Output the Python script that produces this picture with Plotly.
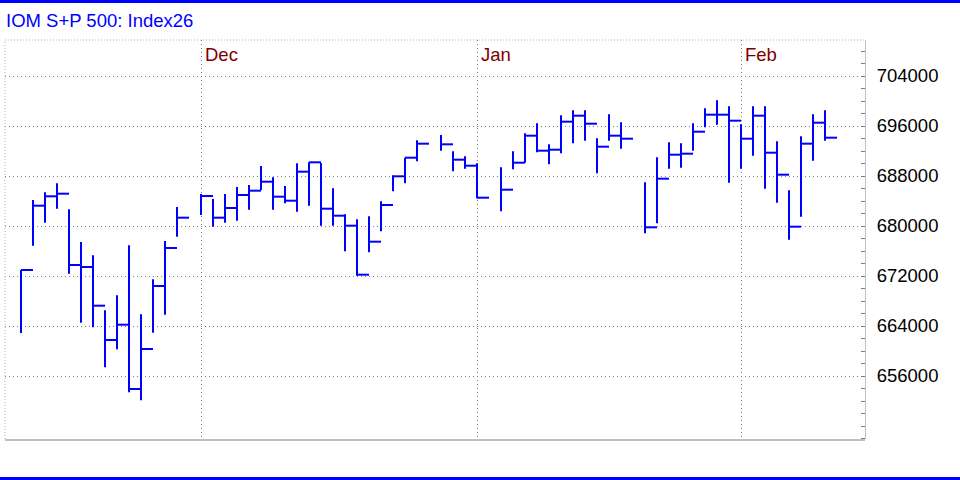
import numpy as np
import plotly.graph_objects as go

# ---- data ----
dates = [
    "2025-11-10", "2025-11-11", "2025-11-12", "2025-11-13", "2025-11-14",
    "2025-11-17", "2025-11-18", "2025-11-19", "2025-11-20", "2025-11-21",
    "2025-11-24", "2025-11-25", "2025-11-26", "2025-11-27",
    "2025-12-01", "2025-12-02", "2025-12-03", "2025-12-04", "2025-12-05",
    "2025-12-08", "2025-12-09", "2025-12-10", "2025-12-11", "2025-12-12",
    "2025-12-15", "2025-12-16", "2025-12-17", "2025-12-18", "2025-12-19",
    "2025-12-22", "2025-12-23", "2025-12-24", "2025-12-25",
    "2025-12-29", "2025-12-30", "2025-12-31", "2026-01-01",
    "2026-01-05", "2026-01-06", "2026-01-07", "2026-01-08", "2026-01-09",
    "2026-01-12", "2026-01-13", "2026-01-14", "2026-01-15", "2026-01-16",
    "2026-01-19",
    "2026-01-21", "2026-01-22", "2026-01-23",
    "2026-01-26", "2026-01-27", "2026-01-28", "2026-01-29", "2026-01-30",
    "2026-02-02", "2026-02-03", "2026-02-04", "2026-02-05", "2026-02-06",
    "2026-02-09", "2026-02-10", "2026-02-11",
]
high = [
    672960, 684160, 685390, 686830, 682670, 677440, 675310, 666510, 668910, 676910,
    665870, 671470, 677600, 683040,
    685120, 684320, 685120, 686240, 686560, 689600, 687790, 686400, 690030, 690190,
    690080, 686030, 681870, 681070, 681550, 683950, 688110, 690930, 693710,
    694560, 691950, 691150, 690030,
    689390, 691950, 694830, 696430, 693070, 697710, 698510, 698510, 694030, 697870,
    696590,
    686990, 690990, 693390, 693230, 696430, 698830, 700110, 699150,
    696270, 699150, 699150, 693550, 685710, 694350, 697870, 698510,
]
low = [
    662880, 676850, 680530, 682770, 672370, 664530, 663790, 657390, 660270, 653390,
    652110, 662930, 665810, 678290,
    681760, 679890, 680530, 680850, 682610, 685760, 682610, 683630, 682290, 683250,
    680050, 680050, 675950, 672050, 675790, 679150, 685550, 686830, 690350,
    692050, 688750, 689170, 684430,
    682350, 689070, 690130, 691790, 689870, 691630, 693230, 693650, 688430, 693650,
    692370,
    678830, 680430, 689170, 689330, 692050, 695790, 696210, 686930,
    689170, 691250, 685970, 683730, 677810, 681490, 690450, 693650,
]
close = [
    672960, 683250, 684750, 685170, 673760, 673440, 667250, 661760, 664210, 653920,
    660320, 670400, 676480, 681330,
    684800, 681330, 682880, 684960, 685650, 687090, 684690, 684050, 688690, 690190,
    682770, 681650, 680050, 672210, 677490, 683360, 687950, 690930, 693170,
    693070, 690610, 689650, 684530,
    685810, 690130, 694450, 692050, 692210, 696690, 697650, 696370, 692690, 694450,
    693970,
    679790, 687570, 691410, 691570, 695090, 697810, 697810, 696850,
    693970, 697650, 691730, 688210, 679890, 693170, 696530, 694130,
]
month_labels = ["Dec", "Jan", "Feb"]
month_starts = ["2025-12-01", "2026-01-01", "2026-02-02"]
y_ticks = [656000, 664000, 672000, 680000, 688000, 696000, 704000]
title_text = "IOM S+P 500: Index26"

# ---- positions: weekday slots ----
d0 = np.datetime64(dates[0])
slot = [int(np.busday_count(d0, np.datetime64(d))) for d in dates]
month_slots = [int(np.busday_count(d0, np.datetime64(d))) for d in month_starts]

xs, ys = [], []
for s, h, l, c in zip(slot, high, low, close):
    xs += [s, s, None, s, s + 1, None]
    ys += [l, h, None, c, c, None]

BLUE = "#0000ff"
fig = go.Figure()
fig.add_trace(go.Scatter(x=xs, y=ys, mode="lines",
                         line=dict(color=BLUE, width=2),
                         hoverinfo="skip", showlegend=False))

L, R, T, B = 5, 95, 40, 41
W, H = 960, 480
pw, ph = W - L - R, H - T - B
FONT = "Liberation Sans, Arial, sans-serif"

fig.update_layout(
    width=W, height=H,
    margin=dict(l=L, r=R, t=T, b=B),
    paper_bgcolor="white", plot_bgcolor="white",
    showlegend=False,
    font=dict(family=FONT, size=18.5, color="black"),
)
fig.update_xaxes(
    range=[-16 / 12, (pw - 16) / 12],
    tickvals=month_slots, showticklabels=False, ticks="",
    showgrid=True, gridcolor="#808080", griddash="1px,3px", gridwidth=1,
    zeroline=False, showline=False,
)
fig.update_yaxes(
    range=[645920, 709760], side="right",
    tickvals=y_ticks, ticktext=[str(v) for v in y_ticks],
    ticks="", ticklabelstandoff=7,
    tickfont=dict(family=FONT, size=18.5, color="black"),
    showgrid=True, gridcolor="#808080", griddash="1px,3px", gridwidth=1,
    zeroline=False, showline=True, linecolor="#c0c0c0", linewidth=1,
    minor=dict(ticks="inside", ticklen=4, tickcolor="#808080", dtick=2000,
               tick0=0, showgrid=False),
)

shapes = [
    # frame
    dict(type="line", xref="paper", yref="paper", x0=0, x1=1, y0=1, y1=1,
         line=dict(color="#b0b0b0", width=1, dash="1px,2px")),
    dict(type="line", xref="paper", yref="paper", x0=0, x1=0, y0=0, y1=1,
         line=dict(color="#b0b0b0", width=1, dash="1px,2px")),
    dict(type="line", xref="paper", yref="paper", x0=0, x1=1, y0=-1 / ph, y1=-1 / ph,
         line=dict(color="#c0c0c0", width=2)),
    # blue bands
    dict(type="rect", xref="paper", yref="paper",
         x0=-L / pw, x1=(W - L) / pw, y0=(ph + T - 3) / ph, y1=(ph + T) / ph,
         fillcolor=BLUE, line=dict(width=0)),
    dict(type="rect", xref="paper", yref="paper",
         x0=-L / pw, x1=(W - L) / pw, y0=-(B) / ph, y1=-(B - 3) / ph,
         fillcolor=BLUE, line=dict(width=0)),
]
fig.update_layout(shapes=shapes)

annotations = [
    dict(text=title_text, xref="paper", yref="paper",
         x=-1 / pw, y=(ph + T - 21) / ph, xanchor="left", yanchor="middle",
         showarrow=False, font=dict(family=FONT, size=18.5, color=BLUE)),
]
for ms, lab in zip(month_slots, month_labels):
    annotations.append(dict(text=lab, x=ms, xref="x", y=1, yref="paper",
                            xanchor="left", yanchor="top", xshift=2, yshift=-2,
                            showarrow=False,
                            font=dict(family=FONT, size=18.5, color="#800000")))
fig.update_layout(annotations=annotations)

fig.write_html("out.html", config={"displayModeBar": False},
               post_script="document.body.style.margin='0';document.body.style.overflow='hidden';")
